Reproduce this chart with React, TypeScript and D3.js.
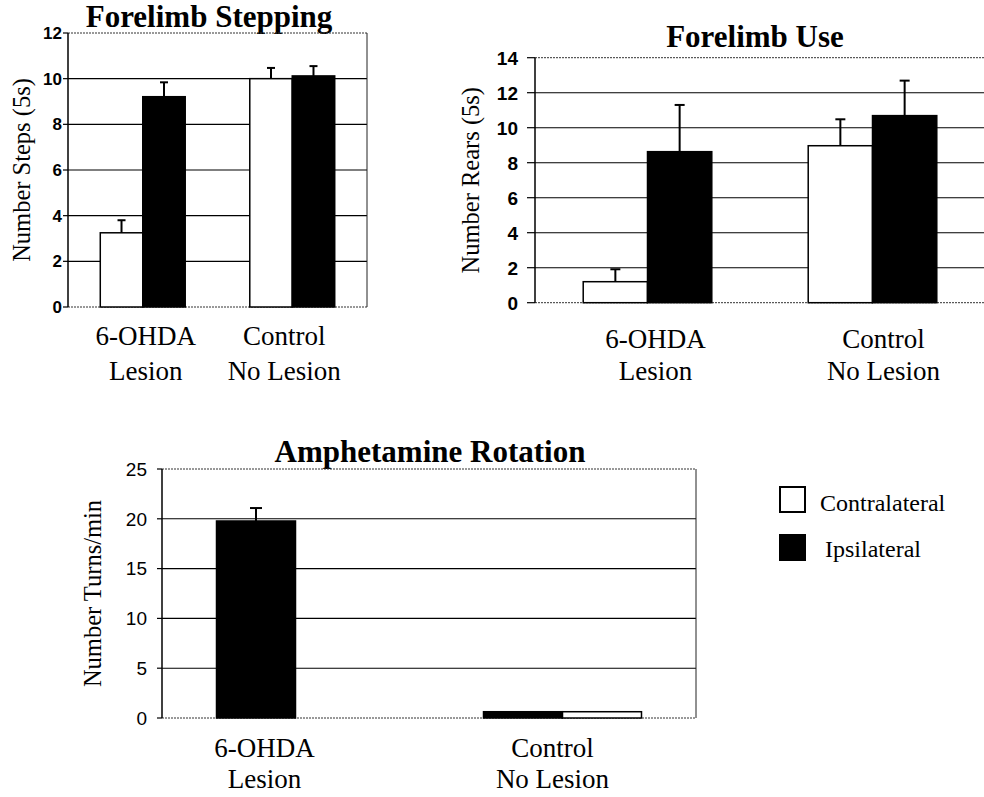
import * as d3 from "d3";

// categories (two lines each)
const categoryLines = [
  ["6-OHDA", "Lesion"],
  ["Control", "No Lesion"],
];
const categories = categoryLines.map((c) => c.join(" "));

// Forelimb Stepping
const stepContra = [3.25, 10.0];
const stepContraErr = [0.55, 0.47];
const stepIpsi = [9.21, 10.12];
const stepIpsiErr = [0.63, 0.43];
const stepTicks = [0, 2, 4, 6, 8, 10, 12];

// Forelimb Use
const useContra = [1.2, 8.97];
const useContraErr = [0.71, 1.51];
const useIpsi = [8.63, 10.69];
const useIpsiErr = [2.67, 2.0];
const useTicks = [0, 2, 4, 6, 8, 10, 12, 14];

// Amphetamine Rotation (ipsilateral drawn first here)
const rotIpsi = [19.78, 0.63];
const rotIpsiErr = [1.3, 0];
const rotContra = [0, 0.63];
const rotContraErr = [0, 0];
const rotTicks = [0, 5, 10, 15, 20, 25];

const legendItems = ["Contralateral", "Ipsilateral"];

const SERIF = "'Liberation Serif', 'Times New Roman', serif";
const SANS = "'Liberation Sans', Arial, sans-serif";

type Series = { name: string; fill: string; values: number[]; errs: number[] };

type PanelProps = {
  title: string;
  yTitle: string;
  series: Series[];
  ticks: number[];
  box: { left: number; right: number; top: number; bottom: number };
  outerPad: number;
  titleY: number;
  titleX: number;
  yTitleX: number;
  tickSize: number;
  tickGap: number;
  tickFont: number;
  tickBold: boolean;
  labelShift: number[];
  labelY: number[];
  cap: number;
};

function Panel(p: PanelProps) {
  const { box } = p;
  const x = d3.scaleBand().domain(categories).range([box.left, box.right]);
  const inner = d3
    .scaleBand()
    .domain(p.series.map((s) => s.name))
    .range([0, x.bandwidth()])
    .paddingOuter(p.outerPad);
  const y = d3
    .scaleLinear()
    .domain([0, p.ticks[p.ticks.length - 1]])
    .range([box.bottom, box.top]);
  const yMid = (box.top + box.bottom) / 2;

  return (
    <g>
      <text
        x={p.titleX}
        y={p.titleY}
        textAnchor="middle"
        style={{ fontFamily: SERIF, fontWeight: "bold", fontSize: 31 }}
      >
        {p.title}
      </text>
      <text
        transform={`translate(${p.yTitleX},${yMid}) rotate(-90)`}
        textAnchor="middle"
        style={{ fontFamily: SERIF, fontSize: 24.5 }}
      >
        {p.yTitle}
      </text>
      {/* grid */}
      {p.ticks.slice(1, -1).map((t) => (
        <line key={t} x1={box.left} x2={box.right} y1={y(t)} y2={y(t)} stroke="#000" strokeWidth={1.1} />
      ))}
      <line x1={box.left} x2={box.right} y1={box.top} y2={box.top} stroke="#333" strokeDasharray="2 1" />
      <line x1={box.left} x2={box.right} y1={box.bottom} y2={box.bottom} stroke="#333" strokeDasharray="2 1" />
      <line x1={box.right} x2={box.right} y1={box.top} y2={box.bottom} stroke="#222" />
      {/* bars */}
      {p.series.map((s) =>
        categories.map((c, i) => {
          const bx = (x(c) ?? 0) + (inner(s.name) ?? 0);
          const v = s.values[i];
          if (v <= 0) return null;
          return (
            <rect
              key={s.name + c}
              x={bx}
              y={y(v)}
              width={inner.bandwidth()}
              height={y(0) - y(v)}
              fill={s.fill}
              stroke="#000"
              strokeWidth={1.5}
            />
          );
        })
      )}
      {/* error bars */}
      {p.series.map((s) =>
        categories.map((c, i) => {
          const e = s.errs[i];
          if (!e) return null;
          const cx = (x(c) ?? 0) + (inner(s.name) ?? 0) + inner.bandwidth() / 2;
          const top = y(s.values[i] + e);
          return (
            <g key={"e" + s.name + c} stroke="#000" strokeWidth={2}>
              <line x1={cx} x2={cx} y1={y(s.values[i])} y2={top} />
              <line x1={cx - p.cap / 2} x2={cx + p.cap / 2} y1={top} y2={top} />
            </g>
          );
        })
      )}
      {/* y axis */}
      <line x1={box.left} x2={box.left} y1={box.top} y2={box.bottom} stroke="#000" strokeWidth={1.5} />
      {p.ticks.map((t) => (
        <g key={"t" + t}>
          <line x1={box.left - p.tickSize} x2={box.left} y1={y(t)} y2={y(t)} stroke="#000" strokeWidth={1.2} />
          <text
            x={box.left - p.tickGap}
            y={y(t)}
            dy="0.36em"
            textAnchor="end"
            style={{
              fontFamily: SANS,
              fontWeight: p.tickBold ? "bold" : "normal",
              fontSize: p.tickFont,
            }}
          >
            {t}
          </text>
        </g>
      ))}
      {/* category labels */}
      {categoryLines.map((lines, i) => {
        const cx = (x(categories[i]) ?? 0) + x.bandwidth() / 2 + p.labelShift[i];
        return lines.map((l, j) => (
          <text
            key={"c" + i + "-" + j}
            x={cx}
            y={p.labelY[j]}
            textAnchor="middle"
            style={{ fontFamily: SERIF, fontSize: 27 }}
          >
            {l}
          </text>
        ));
      })}
    </g>
  );
}

export default function App() {
  return (
    <svg
      width={984}
      height={797}
      style={{ position: "absolute", left: 0, top: 0, background: "#fff" }}
    >
      <rect width={984} height={797} fill="#fff" />
      <Panel
        title="Forelimb Stepping"
        yTitle="Number Steps (5s)"
        series={[
          { name: legendItems[0], fill: "#fff", values: stepContra, errs: stepContraErr },
          { name: legendItems[1], fill: "#000", values: stepIpsi, errs: stepIpsiErr },
        ]}
        ticks={stepTicks}
        box={{ left: 68, right: 367, top: 33, bottom: 307 }}
        outerPad={0.76}
        titleX={209}
        titleY={27}
        yTitleX={30}
        tickSize={5}
        tickGap={6}
        tickFont={17}
        tickBold={true}
        labelShift={[3, -8]}
        labelY={[345, 380]}
        cap={8}
      />
      <Panel
        title="Forelimb Use"
        yTitle="Number Rears (5s)"
        series={[
          { name: legendItems[0], fill: "#fff", values: useContra, errs: useContraErr },
          { name: legendItems[1], fill: "#000", values: useIpsi, errs: useIpsiErr },
        ]}
        ticks={useTicks}
        box={{ left: 535, right: 985, top: 57.7, bottom: 302.7 }}
        outerPad={0.75}
        titleX={755}
        titleY={47}
        yTitleX={479}
        tickSize={8}
        tickGap={17}
        tickFont={19}
        tickBold={true}
        labelShift={[8, 11]}
        labelY={[348, 380]}
        cap={10}
      />
      <Panel
        title="Amphetamine Rotation"
        yTitle="Number Turns/min"
        series={[
          { name: legendItems[1], fill: "#000", values: rotIpsi, errs: rotIpsiErr },
          { name: legendItems[0], fill: "#fff", values: rotContra, errs: rotContraErr },
        ]}
        ticks={rotTicks}
        box={{ left: 162, right: 696, top: 469, bottom: 718 }}
        outerPad={0.69}
        titleX={430}
        titleY={462}
        yTitleX={101}
        tickSize={5}
        tickGap={15}
        tickFont={19}
        tickBold={false}
        labelShift={[-31, -10]}
        labelY={[757, 788]}
        cap={12}
      />
      {/* legend */}
      {legendItems.map((name, i) => (
        <g key={name}>
          <rect
            x={780}
            y={487 + i * 48}
            width={25}
            height={25}
            fill={i === 0 ? "#fff" : "#000"}
            stroke="#000"
            strokeWidth={2}
          />
          <text
            x={i === 0 ? 820 : 825}
            y={511 + i * 46}
            style={{ fontFamily: SERIF, fontSize: 24 }}
          >
            {name}
          </text>
        </g>
      ))}
    </svg>
  );
}
